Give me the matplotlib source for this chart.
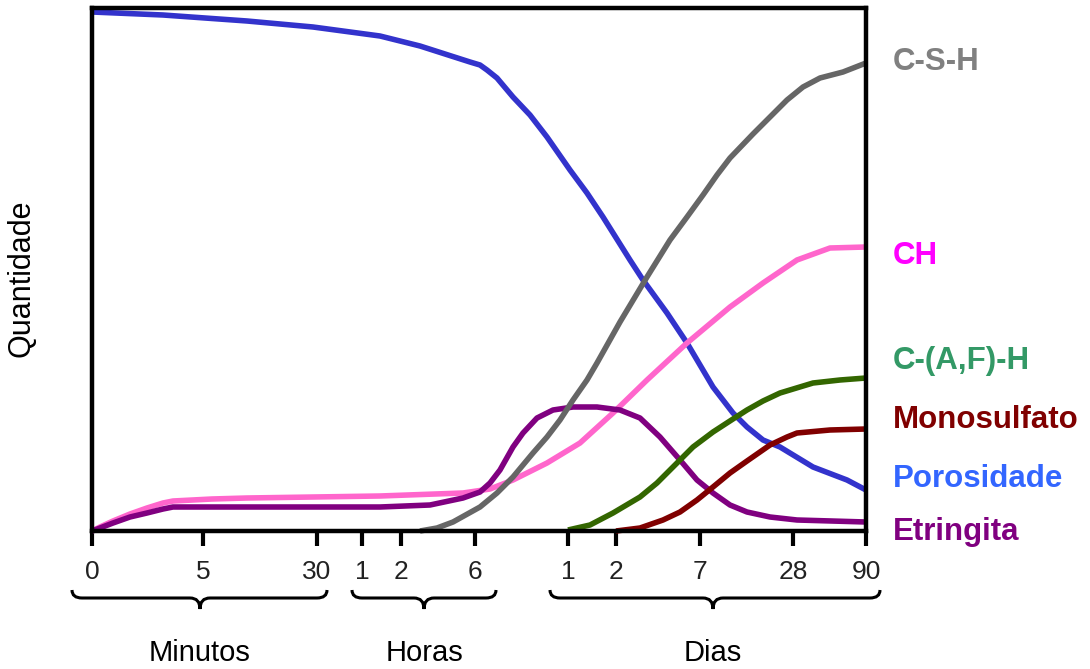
import numpy as np
import matplotlib
matplotlib.use("Agg")
import matplotlib.pyplot as plt
from matplotlib.path import Path
from matplotlib.patches import PathPatch

plt.rcParams['font.family'] = ['Liberation Sans', 'DejaVu Sans']

# posicao ao longo do eixo do tempo (unidades arbitrarias) e quantidade
tick_pos = [0, 111, 225, 270, 309, 383, 476, 524, 608, 701, 774]
tick_lab = ['0', '5', '30', '1', '2', '6', '1', '2', '7', '28', '90']

groups = ['Minutos', 'Horas', 'Dias']
group_span = [(-20, 235, 108), (260, 404, 332), (458, 788, 621)]

por_x = [0, 71, 155, 221, 288, 328, 378, 388, 395, 405, 421, 438, 455, 478, 495, 511, 538, 551,
         575, 595, 621, 641, 655, 671, 688, 721, 755, 774]
por_y = [519, 516, 510, 504, 495, 485, 469, 466, 461, 453, 434, 416, 394, 361, 338, 314, 271, 251,
         218, 188, 144, 118, 104, 91, 84, 64, 51, 41]

csh_x = [328, 345, 361, 388, 405, 421, 441, 455, 468, 481, 495, 505, 528, 555, 578, 595,
         611, 625, 638, 661, 678, 695, 711, 728, 751, 774]
csh_y = [0, 3, 9, 24, 38, 54, 78, 94, 111, 131, 151, 168, 209, 254, 291, 314,
         336, 356, 373, 397, 414, 431, 444, 453, 459, 468]

ch_x = [0, 8, 21, 38, 55, 71, 81, 120, 155, 288, 371, 398, 421, 455, 488, 521, 555, 595,
        638, 671, 705, 738, 774]
ch_y = [0, 4, 10, 17, 23, 28, 30, 32, 33, 35, 38, 42, 51, 68, 88, 118, 151, 188,
        224, 248, 271, 283, 284]

etr_x = [0, 8, 21, 38, 55, 71, 81, 155, 288, 338, 371, 388, 398, 408, 421, 431, 445, 461,
         481, 505, 528, 548, 568, 588, 605, 621, 638, 655, 678, 705, 774]
etr_y = [0, 3, 8, 14, 18, 22, 24, 24, 24, 26, 33, 39, 48, 61, 84, 98, 113, 121,
         124, 124, 121, 113, 94, 71, 51, 38, 26, 19, 14, 11, 9]

cafh_x = [476, 498, 521, 548, 565, 581, 601, 621, 641, 655, 671, 688, 721, 748, 774]
cafh_y = [1, 6, 18, 34, 48, 64, 84, 99, 112, 121, 130, 138, 148, 151, 153]

mono_x = [524, 548, 571, 588, 605, 621, 638, 655, 678, 695, 705, 738, 774]
mono_y = [0, 3, 11, 19, 31, 44, 58, 70, 86, 94, 98, 101, 102]

fig = plt.figure(figsize=(10.9, 6.69), dpi=100)
ax = fig.add_axes([92/1090, 1-531/669, (866-92)/1090, (531-8)/669])

kw = dict(lw=4, solid_capstyle='butt', solid_joinstyle='round', clip_on=False)
ax.plot(por_x, por_y, color='#3333cc', **kw)
ax.plot(ch_x, ch_y, color='#ff66cc', **kw)
ax.plot(etr_x, etr_y, color='#800080', **kw)
ax.plot(csh_x, csh_y, color='#666666', **kw)
ax.plot(cafh_x, cafh_y, color='#336600', **kw)
ax.plot(mono_x, mono_y, color='#800000', **kw)

ax.set_xlim(0, 774)
ax.set_ylim(0, 523)
for s in ax.spines.values():
    s.set_linewidth(3.2)
    s.set_color('black')
ax.set_yticks([])
ax.set_xticks(tick_pos)
ax.set_xticklabels(tick_lab, fontsize=19, color='#222222')
ax.tick_params(axis='x', direction='out', length=11, width=3, pad=10)

# chaves
def brace(x0, x1, xt, ytop=-59, yline=-67, ytip=-78, r=10):
    verts = [(x0, ytop), (x0, yline), (x0 + r, yline),
             (xt - r, yline), (xt, yline), (xt, ytip),
             (xt, yline), (xt + r, yline),
             (x1 - r, yline), (x1, yline), (x1, ytop)]
    codes = [Path.MOVETO, Path.CURVE3, Path.CURVE3,
             Path.LINETO, Path.CURVE3, Path.CURVE3,
             Path.CURVE3, Path.CURVE3,
             Path.LINETO, Path.CURVE3, Path.CURVE3]
    ax.add_patch(PathPatch(Path(verts, codes), fill=False, lw=2.2,
                           color='black', clip_on=False))

for name, (x0, x1, xt) in zip(groups, group_span):
    brace(x0, x1, xt)
    ax.text(xt, -122, name, fontsize=21, ha='center', va='center', clip_on=False)

labels = ['C-S-H', 'CH', 'C-(A,F)-H', 'Monosulfato', 'Porosidade', 'Etringita']
lab_col = ['#808080', '#ff00ff', '#339966', '#800000', '#3366ff', '#800080']
lab_y = [461, 267, 162, 103, 44, -9]
for t, c, y in zip(labels, lab_col, lab_y):
    ax.text(801, y, t, color=c, fontsize=22.5, fontweight='bold',
            ha='left', va='baseline', clip_on=False)

fig.text(22/1090, 1-278/669, 'Quantidade', rotation=90, fontsize=22,
         ha='center', va='center')

fig.savefig('out.png', dpi=100)
